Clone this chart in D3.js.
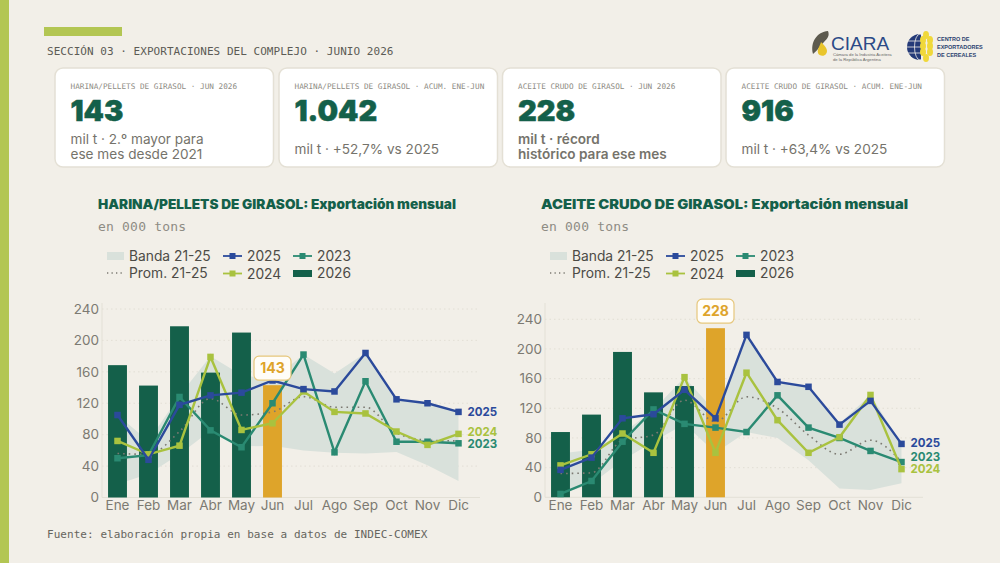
<!DOCTYPE html>
<html>
<head>
<meta charset="utf-8">
<script src="https://cdn.jsdelivr.net/npm/d3@7"></script>
<style>
  html, body { margin: 0; padding: 0; background: #f2efe8; }
  svg { display: block; }
  .mono { font-family: "DejaVu Sans Mono", monospace; }
  .sans { font-family: Inter, "Noto Sans", sans-serif; }
  .axis text { font-family: Inter, "Noto Sans", sans-serif; fill: #7c7a72; }
  .axis path, .axis line { stroke: none; }
</style>
</head>
<body>
<div id="chart"></div>
<script>
const months = ['Ene', 'Feb', 'Mar', 'Abr', 'May', 'Jun', 'Jul', 'Ago', 'Sep', 'Oct', 'Nov', 'Dic'];
const yTicks = [0, 40, 80, 120, 160, 200, 240];

// Harina / pellets
const harina2026 = [168.5, 142.5, 218, 159, 210, 143];
const harina2025 = [105, 48, 118, 130, 133.5, 149, 138, 135, 184, 125, 120, 109];
const harina2024 = [72, 55, 66, 179, 86, 94.5, 135, 109, 107, 84, 67, 81];
const harina2023 = [50, 54, 128, 85.5, 64, 120, 182, 57.5, 148, 71, 71, 69];
const harinaProm = [56, 55, 84, 126, 105, 109, 128.5, 115, 115, 82, 73, 72];
const harinaBandHi = [105, 72, 130, 180, 156, 150, 182, 158, 184, 125, 120, 109];
const harinaBandLo = [17, 30, 55, 85, 65, 66, 60, 57, 56, 58, 41, 21];

// Aceite crudo
const aceite2026 = [88, 111.5, 196, 141.5, 150, 228];
const aceite2025 = [37, 53.5, 106.5, 112, 145, 106.5, 219, 155.5, 149, 98, 130, 72];
const aceite2024 = [43, 58, 86, 60, 162, 60, 168, 104, 60, 81, 138, 38];
const aceite2023 = [4.5, 22, 75, 118.5, 99, 94, 88, 137.5, 94, 80, 62.5, 47.5];
const aceiteProm = [32, 33, 77, 84, 131, 102, 135.5, 120, 84, 58, 77, 48];
const aceiteBandHi = [59, 64, 86, 118, 162, 115, 219, 155.5, 149, 100, 138, 72];
const aceiteBandLo = [4.5, 18, 50, 75, 99, 60, 88, 80, 50, 12, 10, 19];

const cardLabels = ['HARINA/PELLETS DE GIRASOL · JUN 2026', 'HARINA/PELLETS DE GIRASOL · ACUM. ENE-JUN', 'ACEITE CRUDO DE GIRASOL · JUN 2026', 'ACEITE CRUDO DE GIRASOL · ACUM. ENE-JUN'];
const cardValues = ['143', '1.042', '228', '916'];
const cardNotes = [['mil t · 2.º mayor para', 'ese mes desde 2021'], ['mil t · +52,7% vs 2025'], ['mil t · récord', 'histórico para ese mes'], ['mil t · +63,4% vs 2025']];

const colors = { bg: '#f2efe8', green: '#14604a', gold: '#dea42a', c2025: '#2b4a9b', c2024: '#a9c23f', c2023: '#2a8a72', band: '#d9e1db', grey: '#7c7a72', lime: '#b3c653' };

const width = 1000;
const height = 563;

const svg = d3.select('#chart').append('svg').attr('width', width).attr('height', height);
svg.append('rect').attr('width', width).attr('height', height).attr('fill', colors.bg);

// side strip and header
svg.append('rect').attr('width', 9).attr('height', height).attr('fill', colors.lime);
svg.append('rect').attr('x', 44).attr('y', 27).attr('width', 78).attr('height', 9).attr('fill', colors.lime);
svg.append('text').attr('class', 'mono').attr('x', 47).attr('y', 55)
  .attr('font-size', 11).attr('letter-spacing', 0.04).attr('fill', '#5c5b55')
  .text('SECCIÓN 03 · EXPORTACIONES DEL COMPLEJO · JUNIO 2026');
svg.append('text').attr('class', 'mono').attr('x', 47).attr('y', 538)
  .attr('font-size', 11).attr('letter-spacing', 0.05).attr('fill', '#66655e')
  .text('Fuente: elaboración propia en base a datos de INDEC-COMEX');

// cards
const cardX = [55, 279, 502.5, 726];
cardX.forEach((x, i) => {
  const g = svg.append('g').attr('transform', `translate(${x},68)`);
  g.append('rect').attr('width', 218.5).attr('height', 99).attr('rx', 8)
    .attr('fill', '#fff').attr('stroke', '#e4e0d5').attr('stroke-width', 1.5);
  g.append('text').attr('class', 'mono').attr('x', 15.5).attr('y', 21)
    .attr('font-size', 7.7).attr('fill', '#8e8c84').text(cardLabels[i]);
  g.append('text').attr('class', 'sans').attr('x', 15.5).attr('y', 52.5)
    .attr('font-size', 29).attr('font-weight', 900).attr('fill', colors.green)
    .attr('stroke', colors.green).attr('stroke-width', 0.5).text(cardValues[i]);
  const notes = cardNotes[i];
  notes.forEach((t, j) => {
    g.append('text').attr('class', 'sans').attr('x', 15.5)
      .attr('y', notes.length === 1 ? 86 : 76 + j * 15)
      .attr('font-size', 13.6).attr('font-weight', i === 2 ? 600 : 400)
      .attr('fill', '#75736b').text(t);
  });
});

function drawPanel(p) {
  const x = d3.scaleBand().domain(months).range([p.left, p.left + 372]).paddingInner(0.39).paddingOuter(0.195);
  const y = d3.scaleLinear().domain([0, 240]).range([p.y0, p.y240]);
  const cx = (i) => x(months[i]) + x.bandwidth() / 2;
  const g = svg.append('g');
  const top = 303;

  g.append('text').attr('class', 'sans').attr('x', p.titleX).attr('y', 209)
    .attr('font-size', 13).attr('font-weight', 900).attr('fill', colors.green)
    .attr('textLength', p.titleW).attr('lengthAdjust', 'spacingAndGlyphs').text(p.title);
  g.append('text').attr('class', 'mono').attr('x', p.titleX).attr('y', 231)
    .attr('font-size', 13).attr('letter-spacing', 0.2).attr('fill', '#8e8c84').text('en 000 tons');

  // legend
  const lx = p.titleX;
  const leg = g.append('g').attr('class', 'sans').attr('font-size', 13.8).attr('fill', '#4c4b46');
  leg.append('rect').attr('x', lx + 9).attr('y', 252).attr('width', 17).attr('height', 8).attr('fill', colors.band);
  leg.append('text').attr('x', lx + 31).attr('y', 261).text('Banda 21-25');
  leg.append('line').attr('x1', lx + 9).attr('x2', lx + 26).attr('y1', 273).attr('y2', 273)
    .attr('stroke', colors.grey).attr('stroke-width', 1.3).attr('stroke-dasharray', '1.3 3.2');
  leg.append('text').attr('x', lx + 31).attr('y', 278).text('Prom. 21-25');
  [[125, 256, colors.c2025, '2025'], [195, 256, colors.c2023, '2023'], [125, 273.5, colors.c2024, '2024']].forEach(([dx, ly, c, t]) => {
    leg.append('line').attr('x1', lx + dx).attr('x2', lx + dx + 19).attr('y1', ly).attr('y2', ly).attr('stroke', c).attr('stroke-width', 1.8);
    leg.append('rect').attr('x', lx + dx + 6.5).attr('y', ly - 3).attr('width', 6).attr('height', 6).attr('fill', c);
    leg.append('text').attr('x', lx + dx + 24).attr('y', ly + 5).text(t);
  });
  leg.append('rect').attr('x', lx + 195).attr('y', 270).attr('width', 19).attr('height', 7).attr('fill', colors.green);
  leg.append('text').attr('x', lx + 219).attr('y', 278).text('2026');

  // grid and axis lines
  g.append('g').selectAll('line').data(yTicks.slice(1)).join('line')
    .attr('x1', p.left).attr('x2', p.left + 378).attr('y1', (d) => y(d)).attr('y2', (d) => y(d))
    .attr('stroke', '#dedbd0').attr('stroke-width', 0.8).attr('stroke-dasharray', '1.5 3');
  g.append('line').attr('x1', p.left).attr('x2', p.left).attr('y1', top).attr('y2', p.y0).attr('stroke', '#e3e0d6');
  g.append('line').attr('x1', p.left).attr('x2', p.left + 378).attr('y1', p.y0).attr('y2', p.y0).attr('stroke', '#e3e0d6');

  const yAxis = d3.axisLeft(y).tickValues(yTicks).tickSize(0).tickPadding(3);
  g.append('g').attr('class', 'axis').attr('transform', `translate(${p.left},0)`).call(yAxis)
    .selectAll('text').attr('font-size', 13.5);
  const xAxis = d3.axisBottom(x).tickSize(0).tickPadding(3);
  g.append('g').attr('class', 'axis').attr('transform', `translate(0,${p.y0})`).call(xAxis)
    .selectAll('text').attr('font-size', 13.5);

  // band
  const area = d3.area().x((d, i) => cx(i)).y0((d) => y(d[0])).y1((d) => y(d[1]));
  g.append('path').datum(p.bandLo.map((d, i) => [d, p.bandHi[i]])).attr('d', area).attr('fill', colors.band);

  // bars
  g.append('g').selectAll('rect').data(p.bars).join('rect')
    .attr('x', (d, i) => x(months[i])).attr('width', x.bandwidth())
    .attr('y', (d) => y(d)).attr('height', (d) => p.y0 - y(d))
    .attr('fill', (d, i) => (i === 5 ? colors.gold : colors.green));

  // average
  const line = d3.line().x((d, i) => cx(i)).y((d) => y(d));
  g.append('path').attr('d', line.curve(d3.curveMonotoneX)(p.prom)).attr('fill', 'none')
    .attr('stroke', colors.grey).attr('stroke-width', 1.6).attr('stroke-dasharray', '1.6 4');
  line.curve(d3.curveLinear);

  // year series
  [[p.s2023, colors.c2023], [p.s2024, colors.c2024], [p.s2025, colors.c2025]].forEach(([vals, c]) => {
    g.append('path').attr('d', line(vals)).attr('fill', 'none').attr('stroke', c).attr('stroke-width', 2.4);
    g.append('g').selectAll('rect').data(vals).join('rect')
      .attr('x', (d, i) => cx(i) - 3.25).attr('y', (d) => y(d) - 3.25)
      .attr('width', 6.5).attr('height', 6.5).attr('fill', c);
  });

  // end labels
  [[p.s2025, colors.c2025, '2025'], [p.s2024, colors.c2024, '2024'], [p.s2023, colors.c2023, '2023']].forEach(([vals, c, t]) => {
    g.append('text').attr('class', 'sans').attr('x', cx(11) + 9).attr('y', y(vals[11]) + 4 + p.nudge[t])
      .attr('font-size', 11.5).attr('font-weight', 700).attr('fill', c).text(t);
  });

  // callout on June
  const jun = p.bars[5];
  const call = g.append('g').attr('transform', `translate(${cx(5)},${y(jun) - 5})`);
  call.append('rect').attr('x', -18.5).attr('y', -24).attr('width', 37).attr('height', 24).attr('rx', 5)
    .attr('fill', '#fffdf8').attr('stroke', '#e6c77c').attr('stroke-width', 1.2);
  call.append('text').attr('class', 'sans').attr('y', -7).attr('text-anchor', 'middle')
    .attr('font-size', 14).attr('font-weight', 700).attr('fill', colors.gold).text(jun);
}

drawPanel({
  title: 'HARINA/PELLETS DE GIRASOL: Exportación mensual', titleX: 98, titleW: 358,
  left: 102, y0: 497.5, y240: 309,
  bars: harina2026, s2025: harina2025, s2024: harina2024, s2023: harina2023,
  prom: harinaProm, bandHi: harinaBandHi, bandLo: harinaBandLo,
  nudge: { 2025: 0, 2024: -2, 2023: 1 },
});

drawPanel({
  title: 'ACEITE CRUDO DE GIRASOL: Exportación mensual', titleX: 541, titleW: 367,
  left: 545, y0: 497.3, y240: 319.3,
  bars: aceite2026, s2025: aceite2025, s2024: aceite2024, s2023: aceite2023,
  prom: aceiteProm, bandHi: aceiteBandHi, bandLo: aceiteBandLo,
  nudge: { 2025: -1, 2024: 0, 2023: -5 },
});

// logos, redrawn roughly
const ciara = svg.append('g');
ciara.append('path').attr('d', 'M813 54 C810 42 817 32 828 31 C830 36 827 39 824 42 C820 46 818 50 813 54 Z').attr('fill', '#5d5a4e');
ciara.append('path').attr('d', 'M821 42 C825 46 829 50 826 54 C824 57 819 56 818 53 C817 49 820 46 821 42 Z').attr('fill', '#e9c52c');
ciara.append('text').attr('x', 831).attr('y', 49.5).attr('font-family', 'Liberation Sans, sans-serif')
  .attr('font-size', 19).attr('fill', '#2b4a87').text('CIARA');
ciara.append('text').attr('x', 833).attr('y', 56).attr('font-family', 'Liberation Sans, sans-serif')
  .attr('font-size', 4.2).attr('fill', '#666').text('Cámara de la Industria Aceitera');
ciara.append('text').attr('x', 833).attr('y', 61).attr('font-family', 'Liberation Sans, sans-serif')
  .attr('font-size', 4.2).attr('fill', '#666').text('de la República Argentina');

const cec = svg.append('g');
cec.append('circle').attr('cx', 920).attr('cy', 47).attr('r', 13).attr('fill', '#243a78');
cec.append('ellipse').attr('cx', 920).attr('cy', 47).attr('rx', 5.5).attr('ry', 13).attr('fill', 'none').attr('stroke', colors.bg).attr('stroke-width', 0.8);
[41, 47, 53].forEach((ly) => {
  cec.append('line').attr('x1', 907).attr('x2', 930).attr('y1', ly).attr('y2', ly).attr('stroke', colors.bg).attr('stroke-width', 0.8);
});
cec.append('rect').attr('x', 921).attr('y', 32).attr('width', 14).attr('height', 31).attr('fill', colors.bg);
[[926, 35], [923, 40], [930, 40], [923, 46], [930, 46], [923, 52], [930, 52], [926, 58]].forEach(([ex, ey]) => {
  cec.append('ellipse').attr('cx', ex).attr('cy', ey).attr('rx', 3).attr('ry', 4).attr('fill', '#f0d83a');
});
['CENTRO DE', 'EXPORTADORES', 'DE CEREALES'].forEach((t, i) => {
  cec.append('text').attr('x', 937).attr('y', 41 + i * 8).attr('font-family', 'Liberation Sans, sans-serif')
    .attr('font-size', 5.5).attr('font-weight', 700).attr('fill', '#2b3f6f').text(t);
});
</script>
</body>
</html>
